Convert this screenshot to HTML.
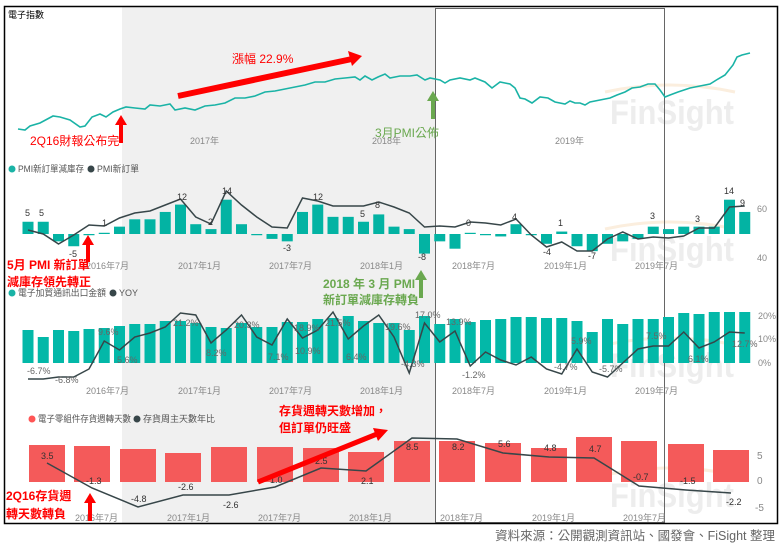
<!DOCTYPE html>
<html><head><meta charset="utf-8"><style>
html,body{margin:0;padding:0;background:#fff;width:781px;height:546px;overflow:hidden}
svg{display:block;font-family:"Liberation Sans","Noto Sans CJK TC",sans-serif}
.ax{font-size:9px;fill:#888}
.lb{font-size:9px;fill:#333}
.lg{font-size:9px;fill:#555}
.rd{font-size:12px;fill:#f00;font-weight:bold}
.gr{font-size:12px;fill:#6aa84f;font-weight:bold}
.wm{font-size:34px;fill:#ededed;font-weight:bold}
</style></head><body>
<svg width="781" height="546" viewBox="0 0 781 546">
<rect x="122" y="7" width="314" height="516" fill="#f0f0f0"/>
<g>
<path d="M605,92 Q670,78 735,92" fill="none" stroke="#fbeede" stroke-width="3"/>
<text x="610" y="124" class="wm" textLength="124" lengthAdjust="spacingAndGlyphs">FinSight</text>
<path d="M605,229 Q670,215 735,229" fill="none" stroke="#fbeede" stroke-width="3"/>
<text x="610" y="261" class="wm" textLength="124" lengthAdjust="spacingAndGlyphs">FinSight</text>
<path d="M605,345 Q670,331 735,345" fill="none" stroke="#fbeede" stroke-width="3"/>
<text x="610" y="377" class="wm" textLength="124" lengthAdjust="spacingAndGlyphs">FinSight</text>
<path d="M605,475 Q670,461 735,475" fill="none" stroke="#fbeede" stroke-width="3"/>
<text x="610" y="507" class="wm" textLength="124" lengthAdjust="spacingAndGlyphs">FinSight</text>
</g>
<rect x="435.5" y="8.5" width="229" height="514" fill="none" stroke="#666" stroke-width="1"/>
<rect x="4.5" y="6.5" width="773" height="517" fill="none" stroke="#000" stroke-width="1.5"/>

<!-- Panel 1 -->
<text x="8" y="18" style="font-size:9px;fill:#000">電子指數</text>
<polyline fill="none" stroke="#1ab3a6" stroke-width="1.6" points="18,129 25,130 30,126 40,123 53,116 60,117 70,120 80,127 85,126 92,117 100,114 106,117 113,112 120,109 126,107 135,108 145,109 150,105 160,106 170,104 175,110 185,108 195,110 205,106 215,105 225,103 235,98 245,98 255,96 265,92 275,91 285,89 295,87 305,85 315,82 325,82 335,79 345,78 355,77 360,80 365,76 372,80 378,77 385,74 390,78 400,76 410,76 417,75 425,80 430,78 440,80 445,83 450,80 460,78 470,80 475,78 485,82 492,88 500,82 505,83 510,84 515,88 520,98 525,99 532,103 540,97 548,98 555,102 565,104 570,101 575,103 580,103 585,105 590,102 600,100 610,98 617,95 625,92 632,88 640,87 648,84 655,84 660,90 665,97 670,95 678,92 690,88 700,86 710,84 718,79 725,75 733,65 737,57 742,55 746,54 750,53"/>
<text x="190" y="144" class="ax">2017年</text>
<text x="372" y="144" class="ax">2018年</text>
<text x="555" y="144" class="ax">2019年</text>
<line x1="178" y1="96" x2="352" y2="59" stroke="#f00" stroke-width="6"/>
<polygon points="362,56 348,51 352,66" fill="#f00"/>
<text x="232" y="63" class="rd" style="font-weight:normal">漲幅 22.9%</text>
<line x1="121" y1="143" x2="121" y2="124" stroke="#f00" stroke-width="4"/>
<polygon points="121,115 115,125 127,125" fill="#f00"/>
<text x="30" y="145" class="rd" style="font-weight:normal">2Q16財報公布完</text>
<line x1="433" y1="119" x2="433" y2="100" stroke="#6aa84f" stroke-width="4"/>
<polygon points="433,91 427,101 439,101" fill="#6aa84f"/>
<text x="375" y="137" class="gr" style="font-weight:normal">3月PMI公佈</text>

<!-- Panel 2 -->
<circle cx="12" cy="169" r="3.5" fill="#1ab3a6"/><text x="18" y="172" class="lg" textLength="66" lengthAdjust="spacingAndGlyphs">PMI新訂單減庫存</text>
<circle cx="91" cy="169" r="3.5" fill="#374649"/><text x="97" y="172" class="lg" textLength="42" lengthAdjust="spacingAndGlyphs">PMI新訂單</text>
<g fill="#03b3a3" id="pmibars"></g>
<g class="ax"><text x="86" y="269">2016年7月</text><text x="178" y="269">2017年1月</text><text x="269" y="269">2017年7月</text><text x="360" y="269">2018年1月</text><text x="452" y="269">2018年7月</text><text x="544" y="269">2019年1月</text><text x="635" y="269">2019年7月</text><text x="757" y="212">60</text><text x="757" y="261">40</text></g>
<g id="pmiline"></g>
<g class="lb"><text x="25" y="216">5</text><text x="39" y="216">5</text><text x="69" y="257">-5</text><text x="102" y="226">1</text><text x="177" y="200">12</text><text x="208" y="225">2</text><text x="222" y="194">14</text><text x="283" y="251">-3</text><text x="313" y="200">12</text><text x="360" y="217">5</text><text x="375" y="208">8</text><text x="418" y="260">-8</text><text x="466" y="226">0</text><text x="512" y="220">4</text><text x="543" y="255">-4</text><text x="558" y="226">1</text><text x="588" y="259">-7</text><text x="650" y="219">3</text><text x="695" y="222">3</text><text x="724" y="194">14</text><text x="740" y="206">9</text></g>
<line x1="88" y1="262" x2="88" y2="244" stroke="#f00" stroke-width="4"/>
<polygon points="88,235 82,245 94,245" fill="#f00"/>
<text x="7" y="269" class="rd">5月 PMI 新訂單</text>
<text x="7" y="286" class="rd">減庫存領先轉正</text>
<line x1="421" y1="298" x2="421" y2="279" stroke="#6aa84f" stroke-width="4"/>
<polygon points="421,270 415,280 427,280" fill="#6aa84f"/>
<text x="323" y="288" class="gr">2018 年 3 月 PMI</text>
<text x="323" y="304" class="gr">新訂單減庫存轉負</text>

<!-- Panel 3 -->
<circle cx="12" cy="293" r="3.5" fill="#1ab3a6"/><text x="18" y="296" class="lg" textLength="88" lengthAdjust="spacingAndGlyphs">電子加貿通訊出口金額</text>
<circle cx="113" cy="293" r="3.5" fill="#374649"/><text x="119" y="296" class="lg">YOY</text>
<g id="expbars"></g>
<g id="yoyline"></g>
<g class="ax"><text x="86" y="394">2016年7月</text><text x="178" y="394">2017年1月</text><text x="269" y="394">2017年7月</text><text x="360" y="394">2018年1月</text><text x="452" y="394">2018年7月</text><text x="544" y="394">2019年1月</text><text x="635" y="394">2019年7月</text><text x="758" y="319">20%</text><text x="758" y="342">10%</text><text x="758" y="366">0%</text></g>
<g class="ax" style="fill:#666"><text x="27" y="374">-6.7%</text><text x="55" y="383">-6.8%</text><text x="98" y="335">9.6%</text><text x="117" y="363">5.6%</text><text x="173" y="326">21.2%</text><text x="206" y="356">8.2%</text><text x="234" y="328">20.3%</text><text x="268" y="360">7.1%</text><text x="294" y="331">18.9%</text><text x="295" y="354">10.9%</text><text x="325" y="326">21.5%</text><text x="346" y="360">6.4%</text><text x="385" y="330">19.6%</text><text x="415" y="318">17.0%</text><text x="401" y="367">-4.3%</text><text x="446" y="325">13.9%</text><text x="462" y="378">-1.2%</text><text x="554" y="370">-4.7%</text><text x="571" y="344">5.9%</text><text x="599" y="372">-5.7%</text><text x="646" y="339">7.5%</text><text x="688" y="362">6.1%</text><text x="732" y="347">12.7%</text></g>

<!-- Panel 4 -->
<circle cx="32" cy="419" r="3.5" fill="#f55"/><text x="38" y="422" class="lg" textLength="93" lengthAdjust="spacingAndGlyphs">電子零組件存貨週轉天數</text>
<circle cx="137" cy="419" r="3.5" fill="#374649"/><text x="143" y="422" class="lg" textLength="72" lengthAdjust="spacingAndGlyphs">存貨周主天數年比</text>
<g id="invbars"></g>
<polyline fill="none" stroke="#374649" stroke-width="1.5" points="47,463 92,488 138,507 183,495 229,495 275,487 321,468 366,471 412,438 457,439 503,453 549,457 594,458 639,486 686,490 731,493"/>
<g class="lb"><text x="41" y="459">3.5</text><text x="86" y="484">-1.3</text><text x="131" y="502">-4.8</text><text x="178" y="490">-2.6</text><text x="223" y="508">-2.6</text><text x="270" y="483">1.0</text><text x="315" y="464">2.5</text><text x="361" y="484">2.1</text><text x="406" y="450">8.5</text><text x="452" y="450">8.2</text><text x="498" y="447">5.6</text><text x="544" y="451">4.8</text><text x="589" y="452">4.7</text><text x="633" y="480">-0.7</text><text x="680" y="484">-1.5</text><text x="726" y="505">-2.2</text></g>
<g class="ax"><text x="75" y="521">2016年7月</text><text x="167" y="521">2017年1月</text><text x="258" y="521">2017年7月</text><text x="349" y="521">2018年1月</text><text x="440" y="521">2018年7月</text><text x="532" y="521">2019年1月</text><text x="623" y="521">2019年7月</text><text x="757" y="459" style="font-size:10px">5</text><text x="757" y="484" style="font-size:10px">0</text><text x="755" y="511" style="font-size:10px">-5</text></g>
<line x1="258" y1="482" x2="377" y2="434" stroke="#f00" stroke-width="5"/>
<polygon points="388,430 373,428 378,441" fill="#f00"/>
<text x="279" y="415" class="rd">存貨週轉天數增加，</text>
<text x="279" y="432" class="rd">但訂單仍旺盛</text>
<line x1="90" y1="521" x2="90" y2="502" stroke="#f00" stroke-width="4"/>
<polygon points="90,493 84,503 96,503" fill="#f00"/>
<text x="6" y="500" class="rd">2Q16存貨週</text>
<text x="6" y="518" class="rd">轉天數轉負</text>

<text x="775" y="540" text-anchor="end" style="font-size:12.5px;fill:#666">資料來源：公開觀測資訊站、國發會、FiSight 整理</text>
</svg>
<script>
(function(){
var NS="http://www.w3.org/2000/svg";
function el(p,t,a){var e=document.createElementNS(NS,t);for(var k in a)e.setAttribute(k,a[k]);p.appendChild(e);return e;}
var X=function(i){return 28+15.25*i;};
var pv=[5,5,-3,-5,-0.5,0.5,3,6,6,9,12,4,2,14,4,-0.5,-2,-3,9,12,7,7,5,8,3,2,-8,-3,-6,0.3,-0.5,-1,4,-0.5,-4,1,-5,-7,-4,-3,-2,3,2,3,3,3,14,9];
var g=document.getElementById("pmibars");
pv.forEach(function(v,i){var h=Math.abs(v)*2.45;if(h<1.2)h=1.2;el(g,"rect",{x:X(i)-5.5,y:v>=0?234-h:234,width:11,height:h,fill:"#03b3a3"});});
var pl=[230,234,244,235,225,226,218,213,211,205,199,217,224,191,205,217,227,228,198,201,206,206,206,202,207,213,227,226,227,222,223,225,219,235,247,242,251,251,239,232,239,237,238,236,228,228,207,206];
el(document.getElementById("pmiline"),"polyline",{fill:"none",stroke:"#374649","stroke-width":1.5,points:pl.map(function(y,i){return X(i)+","+y;}).join(" ")});
var et=[330,337,330,331,329,328,326,324,324,321,321,323,327,328,323,327,327,322,322,319,318,316,321,323,323,330,316,324,319,322,320,319,317,317,318,318,321,332,319,324,319,319,317,313,314,312,312,312];
var g3=document.getElementById("expbars");
et.forEach(function(y,i){el(g3,"rect",{x:X(i)-5.5,y:y,width:11,height:363-y,fill:"#03b8a8"});});
var yl=[379,379,377,377,369,341,350,337,333,327,313,315,343,330,315,337,345,319,338,330,312,339,326,315,337,373,323,342,331,366,352,360,365,357,369,374,349,372,377,363,349,346,346,332,348,342,332,333];
el(document.getElementById("yoyline"),"polyline",{fill:"none",stroke:"#374649","stroke-width":1.5,points:yl.map(function(y,i){return X(i)+","+y;}).join(" ")});
var bx=[47,92,138,183,229,275,321,366,412,457,503,549,594,639,686,731];
var bt=[445,446,449,453,447,447,448,452,441,441,443,448,437,441,444,450];
var g4=document.getElementById("invbars");
bx.forEach(function(x,i){el(g4,"rect",{x:x-18,y:bt[i],width:36,height:482-bt[i],fill:"#f45a5a"});});
})();
</script>
</body></html>
